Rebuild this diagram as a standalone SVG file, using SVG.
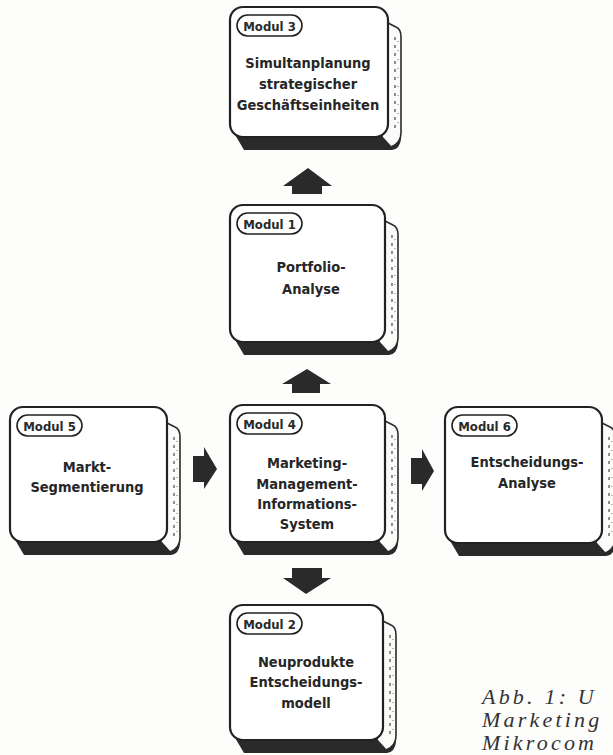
<svg xmlns="http://www.w3.org/2000/svg" width="613" height="755" viewBox="0 0 613 755">
<style>
.bg{fill:#fdfdfc}
.dark{fill:#2a2a2a}
.side{fill:#fbfbfa;stroke:#2a2a2a;stroke-width:1.6;stroke-linejoin:round}
.tex{fill:none;stroke:#555;stroke-width:1.3;stroke-dasharray:3 5}
.tex2{fill:none;stroke:#777;stroke-width:1;stroke-dasharray:1 8}
.face{fill:#ffffff;stroke:#222;stroke-width:2.2}
.pill{fill:#ffffff;stroke:#222;stroke-width:1.6}
.pt{font-family:"DejaVu Sans Condensed","DejaVu Sans",sans-serif;font-weight:bold;font-size:13px;fill:#2a2a2a;text-anchor:middle}
.t{font-family:"DejaVu Sans Condensed","DejaVu Sans",sans-serif;font-weight:bold;font-size:14.5px;fill:#262626;text-anchor:middle}
.arrow{fill:#2a2a2a}
.cap{font-family:"Liberation Serif","DejaVu Serif",serif;font-style:italic;font-size:22px;letter-spacing:3.2px;fill:#333}
</style>
<rect class="bg" x="0" y="0" width="613" height="755"/>

<g id="connectors">
<path class="arrow" d="M308,168 L332,186 L322,186 L322,194 L292,194 L292,186 L283,186 Z"/>
<path class="arrow" d="M307,369 L331,384 L320,384 L320,393 L292,393 L292,384 L282,384 Z"/>
<path class="arrow" d="M292,568 L322,568 L322,578 L331,578 L306,594 L283,578 L292,578 Z"/>
<path class="arrow" d="M193,456 L204,456 L204,447 L217,469 L204,489 L204,482 L193,482 Z"/>
<path class="arrow" d="M411,458 L422,458 L422,449 L434,471 L422,491 L422,484 L411,484 Z"/>
</g>

<g id="modul3" transform="translate(230,7)">
<path class="dark" d="M4,126 L14,143 L162,143 Q170,142 171,132 L171,120 Z"/>
<path class="side" d="M154,14 L166,20 Q171,22 171,30 L171,126 Q171,136 161,140 L152,130 Z"/>
<path class="tex" d="M165,30 V126"/><path class="tex2" d="M168,34 V122"/>
<rect class="face" x="0" y="0" width="158" height="130" rx="13"/>
<rect class="pill" x="7" y="8" width="65" height="21" rx="10.5"/>
<text class="pt" x="39.5" y="23.5">Modul 3</text>
<text class="t" x="78" y="61">Simultanplanung</text>
<text class="t" x="78" y="82">strategischer</text>
<text class="t" x="78" y="103">Geschäftseinheiten</text>
</g>

<g id="modul1" transform="translate(230,205)">
<path class="dark" d="M4,133 L14,150 L159,150 Q167,149 168,139 L168,127 Z"/>
<path class="side" d="M151,14 L163,20 Q168,22 168,30 L168,133 Q168,143 158,147 L149,137 Z"/>
<path class="tex" d="M162,30 V133"/><path class="tex2" d="M165,34 V129"/>
<rect class="face" x="0" y="0" width="155" height="137" rx="13"/>
<rect class="pill" x="7" y="8" width="65" height="21" rx="10.5"/>
<text class="pt" x="39.5" y="23.5">Modul 1</text>
<text class="t" x="81" y="67">Portfolio-</text>
<text class="t" x="81" y="89">Analyse</text>
</g>

<g id="modul5" transform="translate(10,407)">
<path class="dark" d="M4,131 L14,148 L161,148 Q169,147 170,137 L170,125 Z"/>
<path class="side" d="M153,14 L165,20 Q170,22 170,30 L170,131 Q170,141 160,145 L151,135 Z"/>
<path class="tex" d="M164,30 V131"/><path class="tex2" d="M167,34 V127"/>
<rect class="face" x="0" y="0" width="157" height="135" rx="13"/>
<rect class="pill" x="7" y="8" width="65" height="21" rx="10.5"/>
<text class="pt" x="39.5" y="23.5">Modul 5</text>
<text class="t" x="77" y="65">Markt-</text>
<text class="t" x="77" y="85">Segmentierung</text>
</g>

<g id="modul4" transform="translate(230,405)">
<path class="dark" d="M4,133 L14,150 L159,150 Q167,149 168,139 L168,127 Z"/>
<path class="side" d="M151,14 L163,20 Q168,22 168,30 L168,133 Q168,143 158,147 L149,137 Z"/>
<path class="tex" d="M162,30 V133"/><path class="tex2" d="M165,34 V129"/>
<rect class="face" x="0" y="0" width="155" height="137" rx="13"/>
<rect class="pill" x="7" y="8" width="65" height="21" rx="10.5"/>
<text class="pt" x="39.5" y="23.5">Modul 4</text>
<text class="t" x="77" y="63">Marketing-</text>
<text class="t" x="77" y="84">Management-</text>
<text class="t" x="77" y="104">Informations-</text>
<text class="t" x="77" y="124">System</text>
</g>

<g id="modul6" transform="translate(445,407)">
<path class="dark" d="M4,132 L14,149 L161,149 Q169,148 170,138 L170,126 Z"/>
<path class="side" d="M153,14 L165,20 Q170,22 170,30 L170,132 Q170,142 160,146 L151,136 Z"/>
<path class="tex" d="M164,30 V132"/><path class="tex2" d="M167,34 V128"/>
<rect class="face" x="0" y="0" width="157" height="136" rx="13"/>
<rect class="pill" x="7" y="8" width="65" height="21" rx="10.5"/>
<text class="pt" x="39.5" y="23.5">Modul 6</text>
<text class="t" x="82" y="60">Entscheidungs-</text>
<text class="t" x="82" y="81">Analyse</text>
</g>

<g id="modul2" transform="translate(230,605)">
<path class="dark" d="M4,131 L14,148 L157,148 Q165,147 166,137 L166,125 Z"/>
<path class="side" d="M149,14 L161,20 Q166,22 166,30 L166,131 Q166,141 156,145 L147,135 Z"/>
<path class="tex" d="M160,30 V131"/><path class="tex2" d="M163,34 V127"/>
<rect class="face" x="0" y="0" width="153" height="135" rx="13"/>
<rect class="pill" x="7" y="8" width="65" height="21" rx="10.5"/>
<text class="pt" x="39.5" y="23.5">Modul 2</text>
<text class="t" x="76" y="62">Neuprodukte</text>
<text class="t" x="76" y="82">Entscheidungs-</text>
<text class="t" x="76" y="103">modell</text>
</g>

<g id="caption">
<text class="cap" x="482" y="704">Abb. 1: U</text>
<text class="cap" x="482" y="727">Marketing</text>
<text class="cap" x="482" y="750">Mikrocom</text>
</g>
</svg>
